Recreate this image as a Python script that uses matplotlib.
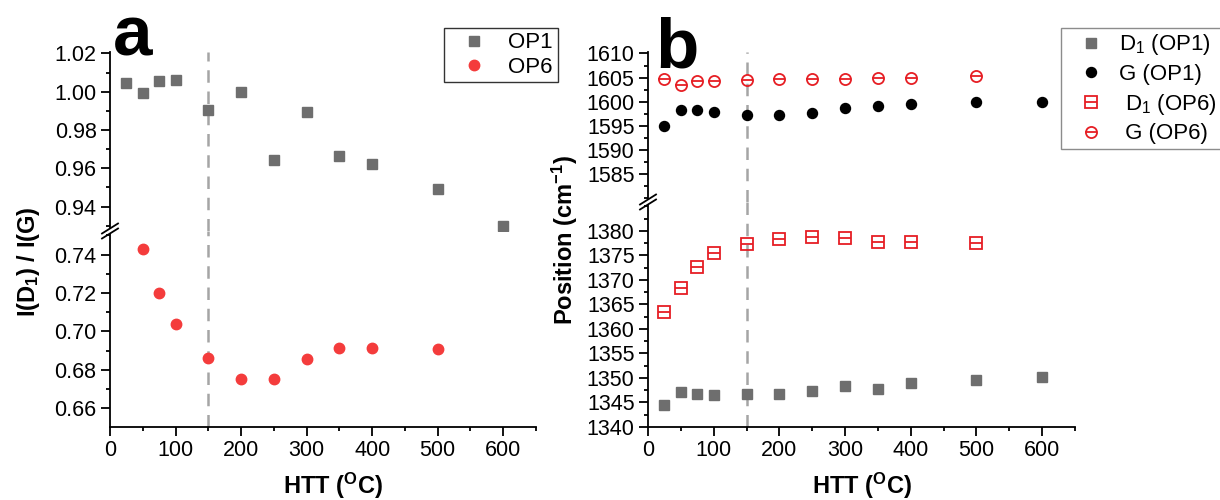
import matplotlib
matplotlib.use('Agg')
import matplotlib.pyplot as plt
from matplotlib.lines import Line2D
from matplotlib.patches import Rectangle
from matplotlib.ticker import MultipleLocator, FormatStrFormatter, FixedLocator

plt.rcParams['font.family'] = ['Liberation Sans', 'DejaVu Sans']
plt.rcParams['mathtext.fontset'] = 'custom'
plt.rcParams['mathtext.rm'] = 'Liberation Sans'
plt.rcParams['mathtext.bf'] = 'Liberation Sans:bold'
plt.rcParams['mathtext.it'] = 'Liberation Sans:italic'

# ---------------- data ----------------
htt_op1 = [25, 50, 75, 100, 150, 200, 250, 300, 350, 400, 500, 600]
ratio_op1 = [1.0047, 0.9992, 1.0057, 1.0061, 0.9903, 1.0000, 0.9645, 0.9896,
             0.9665, 0.9625, 0.9490, 0.9300]
htt_op6 = [50, 75, 100, 150, 200, 250, 300, 350, 400, 500]
ratio_op6 = [0.7428, 0.7202, 0.7039, 0.6864, 0.6754, 0.6754, 0.6855, 0.6914,
             0.6914, 0.6907]

d1_op1 = [1344.5, 1347.1, 1346.8, 1346.5, 1346.7, 1346.7, 1347.3, 1348.4,
          1347.7, 1348.9, 1349.6, 1350.3]
g_op1 = [1595.0, 1598.3, 1598.3, 1597.8, 1597.3, 1597.3, 1597.6, 1598.6,
         1599.2, 1599.6, 1600.0, 1600.0]
htt_op6_pos = [25, 50, 75, 100, 150, 200, 250, 300, 350, 400, 500]
d1_op6 = [1363.4, 1368.4, 1372.7, 1375.4, 1377.3, 1378.4, 1378.7, 1378.5,
          1377.8, 1377.8, 1377.5]
g_op6 = [1604.6, 1603.5, 1604.2, 1604.2, 1604.4, 1604.6, 1604.6, 1604.8,
         1604.9, 1604.9, 1605.3]

x_ticks = [0, 100, 200, 300, 400, 500, 600]
a_top_ticks = [0.94, 0.96, 0.98, 1.00, 1.02]
a_bot_ticks = [0.66, 0.68, 0.70, 0.72, 0.74]
b_top_ticks = [1585, 1590, 1595, 1600, 1605, 1610]
b_bot_ticks = [1340, 1345, 1350, 1355, 1360, 1365, 1370, 1375, 1380]
htt_marker = 150

GRAY = '#6e6e6e'
RED = '#f43c3c'
RED2 = '#e61e24'
DASH = '#a5a5a5'

W, H = 1220, 500
fig = plt.figure(figsize=(W / 100, H / 100), dpi=100)
FS = 15.5
LFS = 16
AFS = 17


def px_ax(left, right, top, bottom):
    return [left / W, 1 - bottom / H, (right - left) / W, (bottom - top) / H]


def style(ax, top_part):
    ax.spines['right'].set_visible(False)
    ax.spines['top'].set_visible(False)
    for s in ax.spines.values():
        s.set_linewidth(1.3)
    ax.tick_params(which='both', direction='out', width=1.3, labelsize=FS)
    ax.tick_params(which='major', length=6.7, pad=3)
    ax.tick_params(which='minor', length=3.2)
    ax.set_xlim(0, 650)
    ax.xaxis.set_major_locator(FixedLocator(x_ticks))
    ax.xaxis.set_minor_locator(MultipleLocator(50))
    if top_part:
        ax.spines['bottom'].set_visible(False)
        ax.tick_params(axis='x', which='both', bottom=False, labelbottom=False)
    ax.patch.set_alpha(0)


def break_marks(xpx, ypx):
    fig.add_artist(Rectangle(((xpx - 3) / W, 1 - (ypx + 2.5) / H), 6 / W, 5 / H,
                             transform=fig.transFigure, facecolor='white',
                             edgecolor='none', zorder=10))
    for dy in (-2.5, 2.5):
        yc = ypx + dy
        fig.add_artist(Line2D([(xpx - 8) / W, (xpx + 8) / W],
                              [1 - (yc + 5) / H, 1 - (yc - 5) / H],
                              transform=fig.transFigure, color='black',
                              lw=1.3, zorder=11))


def vline(ax):
    ax.axvline(htt_marker, color=DASH, lw=1.8, ls=(0, (5, 3.5)), zorder=1)


# ---------------- panel a ----------------
a_top = fig.add_axes(px_ax(110, 536, 52, 231))
a_bot = fig.add_axes(px_ax(110, 536, 231, 427))
a_top.set_ylim(0.9273, 1.0207)
a_bot.set_ylim(0.6503, 0.7523)
for ax, tp, tk in ((a_top, True, a_top_ticks), (a_bot, False, a_bot_ticks)):
    style(ax, tp)
    vline(ax)
    ax.plot(htt_op1, ratio_op1, 's', color=GRAY, ms=6.8, mec=GRAY, zorder=3)
    ax.plot(htt_op6, ratio_op6, 'o', color=RED, ms=7.5, mec=RED, zorder=3)
    ax.yaxis.set_major_locator(FixedLocator(tk))
    ax.yaxis.set_minor_locator(MultipleLocator(0.01))
    ax.yaxis.set_major_formatter(FormatStrFormatter('%.2f'))
break_marks(110, 231)

fig.text(0.0925, 1 - 55 / H, 'a', fontsize=51, fontweight='bold', va='baseline', ha='left')
fig.text(333 / W, 1 - 486 / H, r'HTT ($\mathbf{^{O}}$C)', fontsize=AFS,
         fontweight='bold', ha='center', va='center')
fig.text(28 / W, 1 - 262 / H, r'I(D$\mathbf{_1}$) / I(G)', fontsize=AFS,
         fontweight='bold', ha='center', va='center', rotation=90)

ha = [Line2D([], [], marker='s', ls='none', color=GRAY, ms=6.8),
      Line2D([], [], marker='o', ls='none', color=RED, ms=7.5)]
leg_a = fig.legend(ha, ['OP1', 'OP6'], loc='upper left',
                   bbox_to_anchor=(444 / W, 1 - 28 / H), bbox_transform=fig.transFigure,
                   fontsize=LFS, frameon=True, fancybox=False, edgecolor='black',
                   borderaxespad=0, handlelength=2.3, handletextpad=0.4,
                   labelspacing=0.15, borderpad=0.2)
leg_a.get_frame().set_linewidth(1.0)

# ---------------- panel b ----------------
b_top = fig.add_axes(px_ax(648, 1075, 52, 202))
b_bot = fig.add_axes(px_ax(648, 1075, 202, 427))
b_top.set_ylim(1579.2, 1610.3)
b_bot.set_ylim(1340, 1385.9)
for ax, tp, tk in ((b_top, True, b_top_ticks), (b_bot, False, b_bot_ticks)):
    style(ax, tp)
    vline(ax)
    ax.plot(htt_op1, d1_op1, 's', color=GRAY, ms=6.8, mec=GRAY, zorder=3)
    ax.plot(htt_op1, g_op1, 'o', color='black', ms=7.2, zorder=3)
    ax.plot(htt_op6_pos, d1_op6, 's', mfc='none', mec=RED2, mew=1.3, ms=8.4, zorder=3)
    ax.plot(htt_op6_pos, d1_op6, '_', mec=RED2, mew=1.3, ms=8.4, zorder=3)
    ax.plot(htt_op6_pos, g_op6, 'o', mfc='none', mec=RED2, mew=1.3, ms=8.0, zorder=3)
    ax.plot(htt_op6_pos, g_op6, '_', mec=RED2, mew=1.3, ms=8.0, zorder=3)
    ax.yaxis.set_major_locator(FixedLocator(tk))
    ax.yaxis.set_minor_locator(MultipleLocator(2.5))
break_marks(648, 202)

fig.text(655 / W, 1 - 68 / H, 'b', fontsize=51, fontweight='bold', va='baseline', ha='left')
fig.text(862 / W, 1 - 486 / H, r'HTT ($\mathbf{^{O}}$C)', fontsize=AFS,
         fontweight='bold', ha='center', va='center')
fig.text(565 / W, 1 - 240 / H, r'Position (cm$\mathbf{^{-1}}$)', fontsize=AFS,
         fontweight='bold', ha='center', va='center', rotation=90)

hb = [Line2D([], [], marker='s', ls='none', color=GRAY, ms=6.8),
      Line2D([], [], marker='o', ls='none', color='black', ms=7.2),
      (Line2D([], [], marker='s', ls='none', mfc='none', mec=RED2, mew=1.3, ms=8.4),
       Line2D([], [], marker='_', ls='none', mec=RED2, mew=1.3, ms=8.4)),
      (Line2D([], [], marker='o', ls='none', mfc='none', mec=RED2, mew=1.3, ms=8.0),
       Line2D([], [], marker='_', ls='none', mec=RED2, mew=1.3, ms=8.0))]
leg_b = fig.legend(hb, [r'D$_1$ (OP1)', 'G (OP1)', r' D$_1$ (OP6)', r' G (OP6)'],
                   loc='upper left', bbox_to_anchor=(1061 / W, 1 - 28 / H),
                   bbox_transform=fig.transFigure, fontsize=LFS, frameon=True,
                   fancybox=False, edgecolor='#707070', borderaxespad=0,
                   handlelength=2.3, handletextpad=0.1, labelspacing=0.3,
                   borderpad=0.2)
leg_b.get_frame().set_linewidth(1.0)

fig.savefig('out.png', dpi=100)
